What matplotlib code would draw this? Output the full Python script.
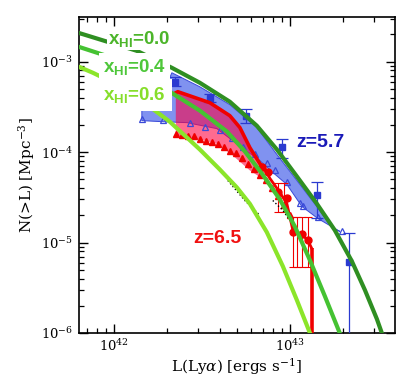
import matplotlib
matplotlib.use("Agg")
import matplotlib.pyplot as plt
import numpy as np
from matplotlib.ticker import LogLocator, NullFormatter

plt.rcParams['font.family'] = 'DejaVu Serif'
plt.rcParams['mathtext.fontset'] = 'custom'
plt.rcParams['mathtext.rm'] = 'Liberation Sans:bold'
plt.rcParams['mathtext.bf'] = 'Liberation Sans:bold'
plt.rcParams['mathtext.it'] = 'Liberation Sans:bold'

# luminosities in units of 1e42 erg/s, densities in Mpc^-3
# model curves for x_HI = 0.0, 0.4, 0.6
L_x00 = [0.633, 1.35, 2.136, 3.08, 4.56, 6.49, 8.44, 11.4, 14.2, 18.0, 22.5, 26.7, 31.2, 33.3]
N_x00 = [2.08e-3, 1.32e-3, 8.57e-4, 5.85e-4, 3.61e-4, 1.96e-4, 1.07e-4, 4.86e-5, 2.71e-5, 1.37e-5, 6.22e-6, 2.98e-6, 1.43e-6, 1.0e-6]
L_x04 = [0.633, 0.949, 2.08, 3.08, 4.39, 5.55, 6.93, 8.77, 10.67, 13.0, 15.8, 19.2]
N_x04 = [1.46e-3, 1.13e-3, 4.66e-4, 2.88e-4, 1.69e-4, 1.02e-4, 5.81e-5, 3.0e-5, 1.51e-5, 6.38e-6, 2.56e-6, 1.0e-6]
L_x06 = [0.633, 0.760, 1.11, 1.60, 2.08, 3.08, 4.0, 5.0, 5.93, 7.40, 9.12, 10.96, 13.0]
N_x06 = [8.79e-4, 7.55e-4, 5.28e-4, 3.18e-4, 2.17e-4, 1.07e-4, 6.43e-5, 4.07e-5, 2.68e-5, 1.30e-5, 5.48e-6, 2.31e-6, 1.0e-6]

# z=5.7 band
L_b57_up = [1.443, 2.08, 2.136, 3.08, 4.56, 6.49, 8.44, 11.4, 14.2, 17.5, 19.2]
N_b57_up = [6.64e-4, 6.64e-4, 7.55e-4, 5.28e-4, 3.35e-4, 1.87e-4, 9.42e-5, 4.40e-5, 2.51e-5, 1.44e-5, 1.33e-5]
L_b57_lo = [1.443, 1.898, 2.60, 3.85, 5.41, 6.75, 8.0, 9.61, 11.7, 14.4, 19.2]
N_b57_lo = [2.23e-4, 2.17e-4, 2.12e-4, 1.82e-4, 1.10e-4, 8.07e-5, 5.96e-5, 4.40e-5, 2.51e-5, 1.85e-5, 1.33e-5]

# z=6.5 band
L_b65_up = [2.25, 2.31, 3.51, 4.56, 5.20, 5.93, 6.75, 7.30]
N_b65_up = [4.54e-4, 4.66e-4, 3.52e-4, 2.53e-4, 1.87e-4, 1.12e-4, 7.48e-5, 6.27e-5]
L_b65_lo = [2.25, 2.96, 3.85, 4.74, 5.93, 6.93]
N_b65_lo = [1.52e-4, 1.41e-4, 1.24e-4, 9.17e-5, 6.27e-5, 5.12e-5]

# z=6.5 data
L_red_line = [7.7, 8.77, 9.61, 10.4, 11.7, 12.65, 13.3]
N_red_line = [5.12e-5, 3.59e-5, 2.71e-5, 1.37e-5, 1.23e-5, 1.06e-5, 8.65e-6]
L_red_circ = [6.93, 7.5, 8.6, 9.61, 10.4, 11.7, 12.65]
N_red_circ = [6.8e-5, 6.0e-5, 3.59e-5, 3.1e-5, 1.3e-5, 1.23e-5, 1.06e-5]
L_red_tri = [2.25, 2.43, 2.63, 2.85, 3.08, 3.33, 3.60, 3.90, 4.22, 4.56, 4.93, 5.34, 5.77, 6.24, 6.75, 7.30, 7.90, 8.55, 9.25, 10.0]
N_red_tri = [1.60e-4, 1.56e-4, 1.52e-4, 1.49e-4, 1.41e-4, 1.34e-4, 1.31e-4, 1.24e-4, 1.15e-4, 1.04e-4, 9.67e-5, 8.71e-5, 7.48e-5, 6.59e-5, 5.52e-5, 4.86e-5, 3.97e-5, 3.24e-5, 2.58e-5, 2.0e-5]
L_red_eb = [8.55, 9.25, 10.4, 10.96, 11.7, 12.65]
N_red_eb = [3.0e-5, 2.9e-5, 1.37e-5, 1.2e-5, 1.11e-5, 1.06e-5]
N_red_eb_lo = [2.16e-5, 2.16e-5, 5.35e-6, 5.35e-6, 5.35e-6, 5.35e-6]
N_red_eb_hi = [4.51e-5, 4.51e-5, 1.9e-5, 1.9e-5, 1.9e-5, 1.9e-5]
L_red_lim = [13.3]
N_red_lim = [8.65e-6]

# z=5.7 data
L_blue_sq = [2.22, 3.51, 5.62, 9.0, 14.2, 21.6]
N_blue_sq = [6.0e-4, 4.0e-4, 2.53e-4, 1.15e-4, 3.32e-5, 6.07e-6]
N_blue_lo = [5.4e-4, 3.6e-4, 2.12e-4, 8.71e-5, 1.85e-5, 1e-8]
N_blue_hi = [6.7e-4, 4.4e-4, 3.03e-4, 1.41e-4, 4.62e-5, 1.27e-5]
L_blue_tri = [1.443, 1.898, 2.70, 3.29, 4.0, 4.68, 5.41, 6.33, 7.40, 8.22, 9.61, 11.4, 11.85, 14.4, 19.7]
N_blue_tri = [2.34e-4, 2.29e-4, 2.12e-4, 1.92e-4, 1.77e-4, 1.45e-4, 1.15e-4, 9.42e-5, 7.67e-5, 6.27e-5, 4.62e-5, 2.71e-5, 2.51e-5, 1.90e-5, 1.33e-5]

# faint dotted model lines
L_dot1 = [4.44, 5.55, 6.75]
N_dot1 = [4.86e-5, 2.92e-5, 2.0e-5]
L_dot2 = [8.0, 9.12, 10.0]
N_dot2 = [2.92e-5, 2.27e-5, 1.76e-5]

E42 = 1e42
def s(a):
    return np.array(a) * E42

fig = plt.figure(figsize=(4.15, 3.79), dpi=100)
ax = fig.add_axes([0.190, 0.1214, 0.762, 0.834])
ax.set_xscale('log')
ax.set_yscale('log')

# bands
bx = np.concatenate([s(L_b57_up), s(L_b57_lo)[::-1]])
by = np.concatenate([N_b57_up, N_b57_lo[::-1]])
ax.fill(bx, by, facecolor='#8092f0', edgecolor='#3a4ad8', lw=0.7, zorder=1)
rx = np.concatenate([s(L_b65_up), s(L_b65_lo)[::-1]])
ry = np.concatenate([N_b65_up, N_b65_lo[::-1]])
ax.fill(rx, ry, facecolor='#ff0040', alpha=0.58, edgecolor='none', zorder=2)

# z=5.7 points
ax.plot(s(L_blue_tri), N_blue_tri, '^', ms=4.5, mfc='none', mec='#3a4ad8', mew=0.9, zorder=3)
N_blue_sq_a = np.array(N_blue_sq)
yerr_b = [N_blue_sq_a - np.array(N_blue_lo), np.array(N_blue_hi) - N_blue_sq_a]
ax.errorbar(s(L_blue_sq), N_blue_sq, yerr=yerr_b, fmt='s', ms=5, color='#2a3ad0',
            ecolor='#2a3ad0', elinewidth=0.9, capsize=4, capthick=0.9, zorder=3)

# z=6.5 points
ax.plot(s(L_b65_up), N_b65_up, '-', color='#f00000', lw=2.6, zorder=4)
ax.plot(s(L_b65_up[-1:] + L_red_line), N_b65_up[-1:] + N_red_line, '-', color='#f00000', lw=2.0, zorder=4)
ax.plot(s(L_red_tri), N_red_tri, '^', ms=5, color='#f00000', mec='#f00000', zorder=4)
ax.plot(s(L_red_circ), N_red_circ, 'o', ms=5, color='#f00000', zorder=4)
N_red_eb_a = np.array(N_red_eb)
yerr_r = [N_red_eb_a - np.array(N_red_eb_lo), np.array(N_red_eb_hi) - N_red_eb_a]
ax.errorbar(s(L_red_eb), N_red_eb, yerr=yerr_r, fmt='none', ecolor='#f00000',
            elinewidth=0.8, capsize=3, capthick=0.8, zorder=4)
ax.vlines(s(L_red_lim), 1e-8, N_red_lim, color='#f00000', lw=2.6, zorder=4)

ax.plot(s(L_dot1), N_dot1, ':', color='black', lw=1.0, zorder=4)
ax.plot(s(L_dot2), N_dot2, ':', color='black', lw=1.0, zorder=4)

# model curves
ax.plot(s(L_x00), N_x00, color='#2f8f22', lw=3, zorder=5, solid_joinstyle='round')
ax.plot(s(L_x04), N_x04, color='#45c232', lw=3, zorder=5, solid_joinstyle='round')
ax.plot(s(L_x06), N_x06, color='#8be52a', lw=3, zorder=5, solid_joinstyle='round')

ax.set_xlim(6.33e41, 3.96e43)
ax.set_ylim(1e-6, 3.13e-3)

# labels
lab_kw = dict(transform=ax.transAxes, family='Liberation Sans', fontweight='bold',
              fontsize=13.5, va='center', ha='left', zorder=10)
ax.text(0.092, 0.930, r'x$_\mathbf{HI}$=0.0', color='#4cb52a',
        bbox=dict(facecolor='white', edgecolor='none', pad=0.5), **lab_kw)
ax.text(0.076, 0.842, r'x$_\mathbf{HI}$=0.4', color='#4ec73a',
        bbox=dict(facecolor='white', edgecolor='none', pad=2.5), **lab_kw)
ax.text(0.076, 0.753, r'x$_\mathbf{HI}$=0.6', color='#86de2a',
        bbox=dict(facecolor='white', edgecolor='none', pad=4.5), **lab_kw)
ax.text(0.763, 0.604, 'z=5.7', transform=ax.transAxes, color='#1a1ab8', family='Liberation Sans',
        fontweight='bold', fontsize=14, va='center', ha='center', zorder=10)
ax.text(0.437, 0.300, 'z=6.5', transform=ax.transAxes, color='#f01010', family='Liberation Sans',
        fontweight='bold', fontsize=14, va='center', ha='center', zorder=10)

ax.set_xlabel(r'L(Ly$\alpha$) [ergs s$^{-1}$]', fontsize=11, labelpad=1, math_fontfamily='dejavuserif')
ax.set_ylabel(r'N(>L) [Mpc$^{-3}$]', fontsize=11, labelpad=3, math_fontfamily='dejavuserif')

ax.xaxis.set_minor_locator(LogLocator(base=10, subs=np.arange(2, 10)))
ax.yaxis.set_minor_locator(LogLocator(base=10, subs=np.arange(2, 10)))
ax.xaxis.set_minor_formatter(NullFormatter())
ax.yaxis.set_minor_formatter(NullFormatter())
ax.tick_params(which='both', direction='in', top=True, right=True, labelsize=9.5)
ax.tick_params(which='major', length=6.5, width=1, pad=4)
ax.tick_params(which='minor', length=3.5, width=0.9)
for lab in ax.get_xticklabels() + ax.get_yticklabels():
    lab.set_math_fontfamily('dejavuserif')
for sp in ax.spines.values():
    sp.set_linewidth(1.2)

fig.savefig('out.png', dpi=100)
